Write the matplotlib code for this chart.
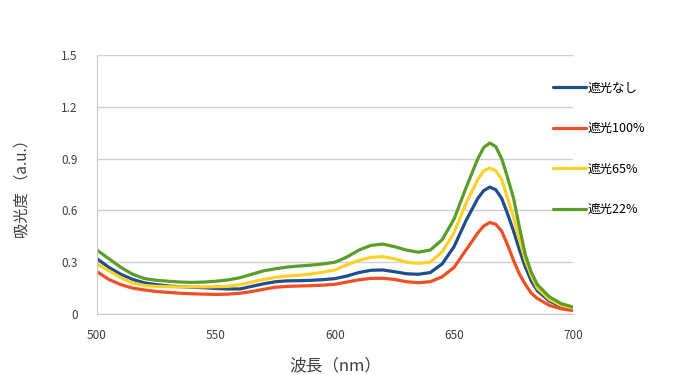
import matplotlib
matplotlib.use('Agg')
import matplotlib.pyplot as plt

plt.rcParams['font.family'] = ['Noto Sans CJK JP', 'DejaVu Sans']

wavelength = [500, 505, 510, 515, 520, 525, 530, 535, 540, 545, 550, 555, 560, 565, 570,
              575, 580, 585, 590, 595, 600, 605, 610, 615, 620, 625, 630, 635, 640, 645,
              650, 655, 660, 662.5, 665, 667.5, 670, 672.5, 675, 677.5, 680, 682.5, 685,
              690, 695, 700]

noShade = [0.32, 0.27, 0.23, 0.20, 0.18, 0.17, 0.162, 0.158, 0.155, 0.152, 0.148, 0.145, 0.145,
           0.16, 0.175, 0.187, 0.192, 0.193, 0.195, 0.199, 0.205, 0.22, 0.24, 0.253, 0.255,
           0.245, 0.233, 0.23, 0.24, 0.29, 0.39, 0.54, 0.67, 0.715, 0.735, 0.72, 0.67, 0.58,
           0.48, 0.37, 0.27, 0.19, 0.135, 0.075, 0.045, 0.03]
shade100 = [0.245, 0.20, 0.17, 0.15, 0.139, 0.13, 0.125, 0.12, 0.117, 0.115, 0.113, 0.115, 0.12,
            0.13, 0.143, 0.155, 0.16, 0.162, 0.164, 0.167, 0.172, 0.185, 0.198, 0.206, 0.207,
            0.20, 0.187, 0.181, 0.187, 0.215, 0.27, 0.37, 0.47, 0.51, 0.53, 0.52, 0.48, 0.40,
            0.31, 0.23, 0.17, 0.12, 0.09, 0.05, 0.03, 0.02]
shade65 = [0.29, 0.25, 0.21, 0.18, 0.165, 0.16, 0.158, 0.157, 0.157, 0.157, 0.158, 0.16, 0.17,
           0.185, 0.20, 0.212, 0.22, 0.225, 0.232, 0.242, 0.255, 0.285, 0.31, 0.328, 0.332,
           0.32, 0.30, 0.293, 0.30, 0.36, 0.47, 0.64, 0.78, 0.83, 0.845, 0.83, 0.78, 0.67,
           0.56, 0.43, 0.31, 0.22, 0.15, 0.085, 0.05, 0.035]
shade22 = [0.37, 0.32, 0.27, 0.23, 0.205, 0.195, 0.19, 0.185, 0.183, 0.185, 0.19, 0.197, 0.21,
           0.23, 0.25, 0.262, 0.272, 0.278, 0.283, 0.29, 0.30, 0.33, 0.37, 0.397, 0.405,
           0.39, 0.37, 0.358, 0.37, 0.43, 0.55, 0.73, 0.90, 0.965, 0.99, 0.97, 0.90, 0.79,
           0.67, 0.50, 0.34, 0.24, 0.17, 0.10, 0.06, 0.04]

seriesNames = ['遮光なし', '遮光100%', '遮光65%', '遮光22%']
seriesColors = ['#1f4e8c', '#f04e23', '#ffd02a', '#5a9e2a']
yTicks = [0, 0.3, 0.6, 0.9, 1.2, 1.5]
yTickLabels = ['0', '0.3', '0.6', '0.9', '1.2', '1.5']
xTicks = [500, 550, 600, 650, 700]

fig = plt.figure(figsize=(6.85, 3.75), dpi=100)
ax = fig.add_axes([0.1416, 0.1627, 0.695, 0.6906])

allSeries = [noShade, shade100, shade65, shade22]
i = 0
while i < len(allSeries):
    ax.plot(wavelength, allSeries[i], color=seriesColors[i], linewidth=2.3,
            label=seriesNames[i], solid_capstyle='round', solid_joinstyle='round')
    i = i + 1

ax.set_xlim(500, 700)
ax.set_ylim(0, 1.5)
ax.set_xticks(xTicks)
ax.set_yticks(yTicks)
ax.set_yticklabels(yTickLabels)
ax.tick_params(axis='x', length=0, labelsize=8.5, colors='#404040', pad=11)
ax.tick_params(axis='y', length=0, labelsize=8.5, colors='#404040', pad=14)
ax.grid(True, axis='y', color='#d0d0d0', linewidth=1)
ax.set_axisbelow(True)
for side in ['top', 'right']:
    ax.spines[side].set_visible(False)
ax.spines['left'].set_color('#c8c8c8')
ax.spines['bottom'].set_color('#c8c8c8')

ax.set_xlabel('波長（nm）', fontsize=12, color='#404040', labelpad=11)
ax.set_ylabel('吸光度 （a.u.）', fontsize=11, color='#404040', labelpad=22)

ax.legend(loc='upper left', bbox_to_anchor=(0.935, 0.94), frameon=False,
          fontsize=9, handlelength=2.6, handletextpad=0.1, labelspacing=2.2)

fig.savefig('out.png', dpi=100, facecolor='white')
